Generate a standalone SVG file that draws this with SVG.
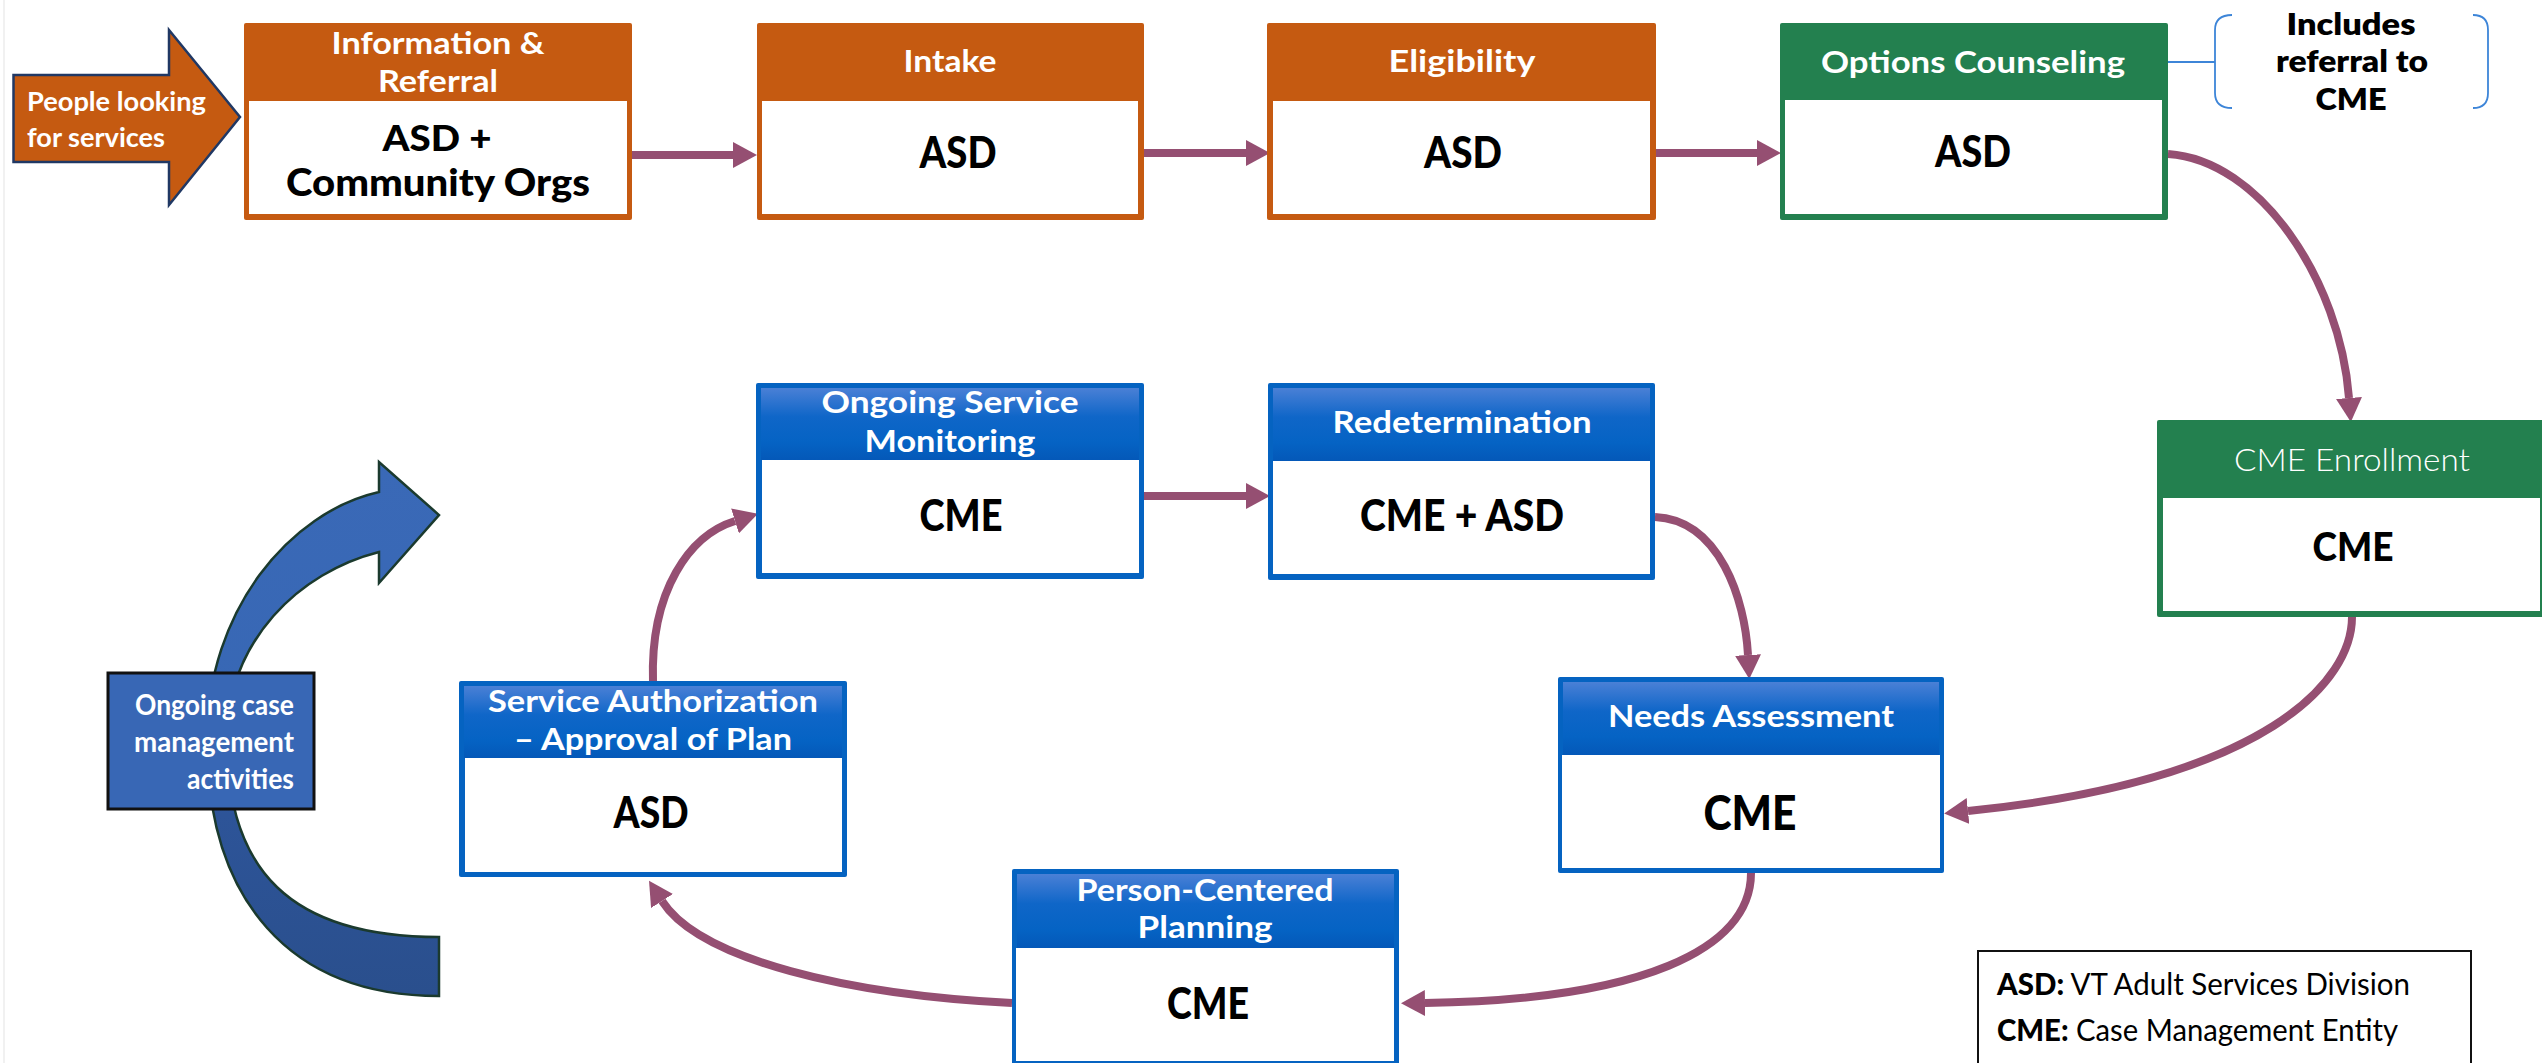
<svg xmlns="http://www.w3.org/2000/svg" width="2542" height="1063" viewBox="0 0 2542 1063">
<defs>
<style>
.t{font-family:Lato,"Liberation Sans",sans-serif;text-anchor:middle}
.hd{font-size:31px;font-weight:700;fill:#fff}
.bd{font-size:44px;font-weight:900;fill:#000}
.conn{fill:none;stroke:#954f72;stroke-width:8}
.or{fill:#c55a11}
.gr{fill:#23804f}
.bl{fill:#0563c1}
.wh{fill:#fff}
</style>
<linearGradient id="bh" x1="0" y1="0" x2="0" y2="1">
<stop offset="0" stop-color="#4a80d6"/>
<stop offset="0.4" stop-color="#0f66c8"/>
<stop offset="0.75" stop-color="#0563c4"/>
<stop offset="1" stop-color="#0458b8"/>
</linearGradient>
<linearGradient id="ca" x1="0" y1="462" x2="0" y2="996" gradientUnits="userSpaceOnUse">
<stop offset="0" stop-color="#3a69b7"/>
<stop offset="0.55" stop-color="#3767b4"/>
<stop offset="0.66" stop-color="#2d5498"/>
<stop offset="1" stop-color="#2a4f8d"/>
</linearGradient>
<marker id="ah" markerUnits="userSpaceOnUse" viewBox="0 0 24 26" markerWidth="24" markerHeight="26" refX="0" refY="13" orient="auto">
<path d="M0,0 L24,13 L0,26 Z" fill="#954f72"/>
</marker>
</defs>
<rect width="2542" height="1063" fill="#fff"/>
<line x1="4" y1="0" x2="4" y2="1063" stroke="#ededed" stroke-width="1.5"/>

<g id="cycle-arrow">
<path d="M379,492 L379,462 L439,515 L379,583 L379,552 C300,572 227,640 227,740 C227,870 290,937 439,937 L439,996 C290,996 207,900 207,740 C207,610 290,512 379,492 Z" fill="url(#ca)" stroke="#1b3a2e" stroke-width="2.5" stroke-linejoin="miter"/>
</g>

<g id="connectors">
<path class="conn" d="M632,155 L733,155" marker-end="url(#ah)"/>
<path class="conn" d="M1144,153 L1246,153" marker-end="url(#ah)"/>
<path class="conn" d="M1656,153 L1757,153" marker-end="url(#ah)"/>
<path class="conn" d="M2168,154 C2260,160 2340,280 2349,398" marker-end="url(#ah)"/>
<path class="conn" d="M2352,617 C2352,680 2270,780 1968,811" marker-end="url(#ah)"/>
<path class="conn" d="M1751,873 C1751,950 1640,1000 1425,1003" marker-end="url(#ah)"/>
<path class="conn" d="M1012,1003 C850,995 700,960 662,901" marker-end="url(#ah)"/>
<path class="conn" d="M653,682 C650,590 690,535 735,521" marker-end="url(#ah)"/>
<path class="conn" d="M1144,496 L1246,496" marker-end="url(#ah)"/>
<path class="conn" d="M1655,517 C1720,520 1745,600 1748,655" marker-end="url(#ah)"/>
</g>

<g id="n-people">
<path d="M13.5,75 L169,75 L169,30 L240,117 L169,205 L169,162 L13.5,162 Z" fill="#c55a11" stroke="#203864" stroke-width="2.5"/>
<text x="27" y="111" font-family="Lato,'Liberation Sans',sans-serif" font-size="26" font-weight="700" fill="#fff" textLength="179" lengthAdjust="spacingAndGlyphs">People looking</text>
<text x="27" y="147" font-family="Lato,'Liberation Sans',sans-serif" font-size="26" font-weight="700" fill="#fff" textLength="138" lengthAdjust="spacingAndGlyphs">for services</text>
</g>

<g id="n-info">
<rect class="or" x="244" y="23" width="388" height="197" rx="2"/>
<rect class="wh" x="249" y="101" width="378" height="113"/>
<text class="t hd" x="438" y="54" textLength="213" lengthAdjust="spacingAndGlyphs">Information &amp;</text>
<text class="t hd" x="438" y="92" textLength="120" lengthAdjust="spacingAndGlyphs">Referral</text>
<text class="t bd" x="437" y="151" style="font-size:36px" textLength="109" lengthAdjust="spacingAndGlyphs">ASD +</text>
<text class="t bd" x="438" y="196" style="font-size:38px" textLength="304" lengthAdjust="spacingAndGlyphs">Community Orgs</text>
</g>

<g id="n-intake">
<rect class="or" x="757" y="23" width="387" height="197" rx="2"/>
<rect class="wh" x="762" y="101" width="376" height="113"/>
<text class="t hd" x="950" y="72" textLength="93" lengthAdjust="spacingAndGlyphs">Intake</text>
<text class="t bd" x="958" y="168" textLength="77" lengthAdjust="spacingAndGlyphs">ASD</text>
</g>

<g id="n-eligibility">
<rect class="or" x="1267" y="23" width="389" height="197" rx="2"/>
<rect class="wh" x="1273" y="101" width="377" height="113"/>
<text class="t hd" x="1462" y="72" textLength="147" lengthAdjust="spacingAndGlyphs">Eligibility</text>
<text class="t bd" x="1463" y="168" textLength="78" lengthAdjust="spacingAndGlyphs">ASD</text>
</g>

<g id="n-options">
<rect class="gr" x="1780" y="23" width="388" height="197" rx="2"/>
<rect class="wh" x="1785" y="100" width="377" height="114"/>
<text class="t hd" x="1973" y="73" textLength="304" lengthAdjust="spacingAndGlyphs">Options Counseling</text>
<text class="t bd" x="1973" y="167" textLength="76" lengthAdjust="spacingAndGlyphs">ASD</text>
</g>

<g id="n-note">
<path d="M2168,62 L2215,62" fill="none" stroke="#3d85d8" stroke-width="1.8"/>
<path d="M2232,15 Q2215,15 2215,30 L2215,93 Q2215,108 2232,108" fill="none" stroke="#3d85d8" stroke-width="1.8"/>
<path d="M2473,15 Q2488,15 2488,30 L2488,93 Q2488,108 2473,108" fill="none" stroke="#3d85d8" stroke-width="1.8"/>
<text class="t" x="2351" y="35" font-size="30" font-weight="800" fill="#000" textLength="129" lengthAdjust="spacingAndGlyphs">Includes</text>
<text class="t" x="2352" y="72" font-size="30" font-weight="800" fill="#000" textLength="152" lengthAdjust="spacingAndGlyphs">referral to</text>
<text class="t" x="2351" y="110" font-size="30" font-weight="800" fill="#000" textLength="71" lengthAdjust="spacingAndGlyphs">CME</text>
</g>

<g id="n-cme-enrollment">
<rect class="gr" x="2157" y="420" width="389" height="197" rx="2"/>
<rect class="wh" x="2163" y="498" width="377" height="113"/>
<text class="t" x="2352" y="471" font-size="31" font-weight="300" fill="#fff" textLength="236" lengthAdjust="spacingAndGlyphs">CME Enrollment</text>
<text class="t bd" x="2353" y="561" style="font-size:40px" textLength="81" lengthAdjust="spacingAndGlyphs">CME</text>
</g>

<g id="n-needs">
<rect class="bl" x="1558" y="677" width="386" height="196" rx="2"/>
<rect fill="url(#bh)" x="1563" y="682" width="376" height="73"/>
<rect class="wh" x="1562" y="755" width="378" height="113"/>
<text class="t hd" x="1751" y="727" textLength="286" lengthAdjust="spacingAndGlyphs">Needs Assessment</text>
<text class="t bd" x="1750" y="830" style="font-size:48px" textLength="93" lengthAdjust="spacingAndGlyphs">CME</text>
</g>

<g id="n-pcp">
<rect class="bl" x="1012" y="869" width="387" height="197" rx="2"/>
<rect fill="url(#bh)" x="1017" y="874" width="377" height="74"/>
<rect class="wh" x="1016" y="948" width="378" height="113"/>
<text class="t hd" x="1205" y="901" textLength="257" lengthAdjust="spacingAndGlyphs">Person-Centered</text>
<text class="t hd" x="1205" y="938" textLength="135" lengthAdjust="spacingAndGlyphs">Planning</text>
<text class="t bd" x="1208" y="1019" textLength="82" lengthAdjust="spacingAndGlyphs">CME</text>
</g>

<g id="n-sa">
<rect class="bl" x="459" y="681" width="388" height="196" rx="2"/>
<rect fill="url(#bh)" x="464" y="686" width="378" height="72"/>
<rect class="wh" x="465" y="758" width="377" height="114"/>
<text class="t hd" x="653" y="712" textLength="330" lengthAdjust="spacingAndGlyphs">Service Authorization</text>
<text class="t hd" x="653" y="750" textLength="278" lengthAdjust="spacingAndGlyphs">– Approval of Plan</text>
<text class="t bd" x="651" y="828" textLength="75" lengthAdjust="spacingAndGlyphs">ASD</text>
</g>

<g id="n-osm">
<rect class="bl" x="756" y="383" width="388" height="196" rx="2"/>
<rect fill="url(#bh)" x="761" y="388" width="378" height="72"/>
<rect class="wh" x="762" y="460" width="377" height="113"/>
<text class="t hd" x="950" y="413" textLength="257" lengthAdjust="spacingAndGlyphs">Ongoing Service</text>
<text class="t hd" x="950" y="452" textLength="171" lengthAdjust="spacingAndGlyphs">Monitoring</text>
<text class="t bd" x="961" y="531" textLength="83" lengthAdjust="spacingAndGlyphs">CME</text>
</g>

<g id="n-redet">
<rect class="bl" x="1268" y="383" width="387" height="197" rx="2"/>
<rect fill="url(#bh)" x="1273" y="388" width="377" height="73"/>
<rect class="wh" x="1273" y="461" width="377" height="113"/>
<text class="t hd" x="1462" y="433" textLength="259" lengthAdjust="spacingAndGlyphs">Redetermination</text>
<text class="t bd" x="1462" y="531" textLength="204" lengthAdjust="spacingAndGlyphs">CME + ASD</text>
</g>

<g id="n-ongoing-case">
<rect x="108" y="673" width="206" height="136" fill="#3867b5" stroke="#111" stroke-width="3"/>
<text x="294" y="715" font-family="Lato,'Liberation Sans',sans-serif" font-size="28" font-weight="700" fill="#fff" text-anchor="end" textLength="159" lengthAdjust="spacingAndGlyphs">Ongoing case</text>
<text x="294" y="752" font-family="Lato,'Liberation Sans',sans-serif" font-size="28" font-weight="700" fill="#fff" text-anchor="end" textLength="160" lengthAdjust="spacingAndGlyphs">management</text>
<text x="294" y="789" font-family="Lato,'Liberation Sans',sans-serif" font-size="28" font-weight="700" fill="#fff" text-anchor="end" textLength="107" lengthAdjust="spacingAndGlyphs">activities</text>
</g>

<g id="legend">
<rect x="1978" y="951" width="493" height="125" fill="#fff" stroke="#111" stroke-width="2"/>
<text x="1997" y="995" font-family="Lato,'Liberation Sans',sans-serif" font-size="31" fill="#000" textLength="413" lengthAdjust="spacingAndGlyphs"><tspan font-weight="900">ASD:</tspan> VT Adult Services Division</text>
<text x="1997" y="1041" font-family="Lato,'Liberation Sans',sans-serif" font-size="31" fill="#000" textLength="401" lengthAdjust="spacingAndGlyphs"><tspan font-weight="900">CME:</tspan> Case Management Entity</text>
</g>
</svg>
